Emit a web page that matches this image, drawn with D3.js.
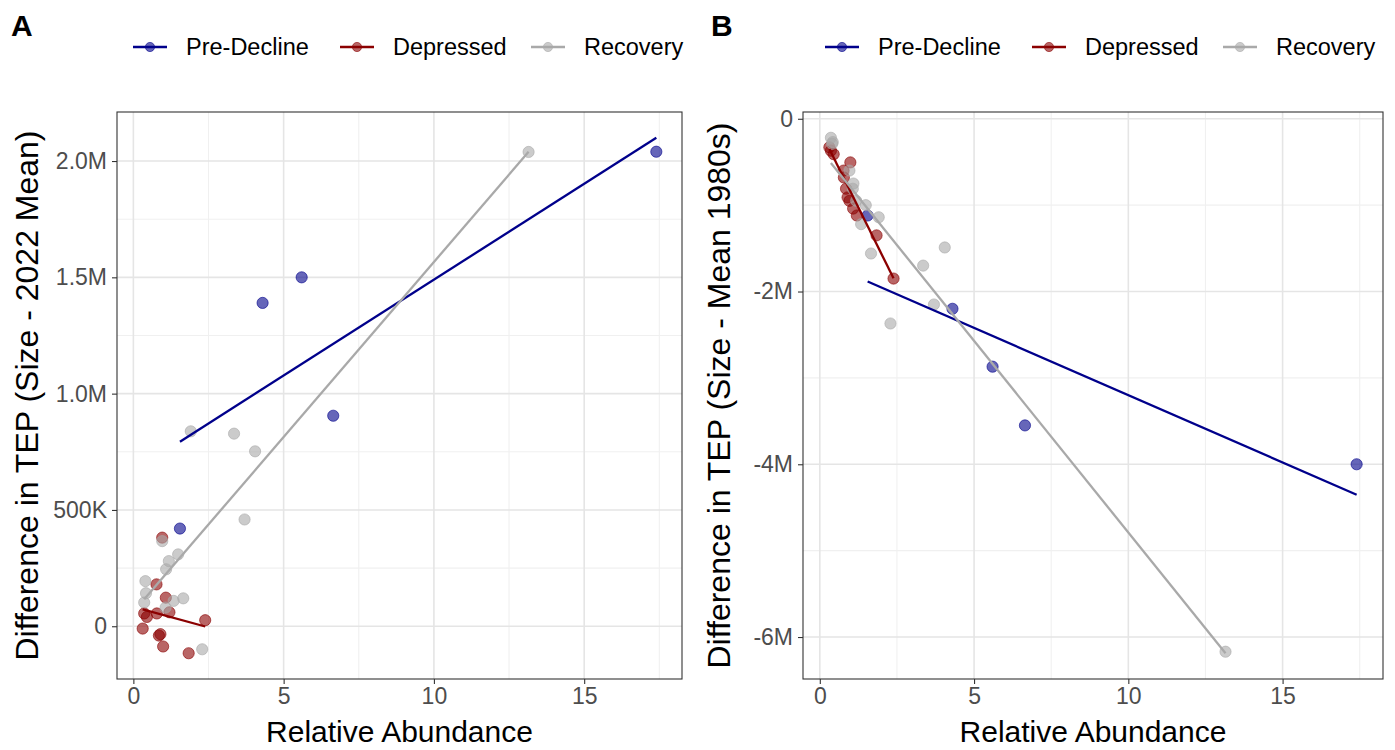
<!DOCTYPE html>
<html>
<head>
<meta charset="utf-8">
<script src="https://cdn.jsdelivr.net/npm/d3@7"></script>
<style>
  body { margin: 0; background: #fff; }
  svg { display: block; }
  text { font-family: "Liberation Sans", Arial, sans-serif; }
</style>
</head>
<body>
<svg id="chart" width="1395" height="750"></svg>
<script>
// Relative abundance (shared by both panels) and TEP differences per period
const preX = [1.55, 4.30, 5.60, 6.65, 17.40];
const preA = [420000, 1390000, 1500000, 905000, 2040000];
const preB = [-1120000, -2200000, -2870000, -3550000, -4000000];

const depX = [0.31, 0.36, 0.45, 0.77, 0.78, 0.85, 0.90, 0.96, 0.99, 1.08, 1.20, 1.84, 2.39];
const depA = [-10000, 55000, 40000, 180000, 55000, -40000, -34000, 381000, -87000, 123000, 60000, -116000, 26000];
const depB = [-330000, -370000, -410000, -600000, -680000, -810000, -910000, -950000, -505000, -1040000, -1120000, -1350000, -1850000];

const recX = [0.36, 0.40, 0.42, 0.96, 1.07, 1.09, 1.18, 1.34, 1.49, 1.66, 1.91, 2.29, 3.35, 3.70, 4.05, 13.15];
const recA = [102000, 194000, 142000, 366000, 80000, 245000, 280000, 109000, 309000, 120000, 838000, -99000, 828000, 459000, 752000, 2039000];
const recB = [-220000, -290000, -270000, -600000, -810000, -750000, -950000, -1220000, -1000000, -1560000, -1140000, -2370000, -1700000, -2150000, -1490000, -6170000];

const periodNames = ["Pre-Decline", "Depressed", "Recovery"];
const periodColors = ["#00008B", "#8B0000", "#A9A9A9"];

const xTicks = [0, 5, 10, 15];
const xTickLabels = ["0", "5", "10", "15"];
const yTicksA = [0, 500000, 1000000, 1500000, 2000000];
const yTickLabelsA = ["0", "500K", "1.0M", "1.5M", "2.0M"];
const yTicksB = [0, -2000000, -4000000, -6000000];
const yTickLabelsB = ["0", "-2M", "-4M", "-6M"];

const svg = d3.select("#chart");

const series = [
  { x: preX, a: preA, b: preB },
  { x: depX, a: depA, b: depB },
  { x: recX, a: recA, b: recB }
].map((s, i) => ({ ...s, name: periodNames[i], color: periodColors[i] }));

// ordinary least squares fit, spanning the group's x range
function fit(xs, ys) {
  const mx = d3.mean(xs), my = d3.mean(ys);
  let sxy = 0, sxx = 0;
  xs.forEach((x, i) => { sxy += (x - mx) * (ys[i] - my); sxx += (x - mx) * (x - mx); });
  const slope = sxy / sxx, icpt = my - slope * mx;
  const [x0, x1] = d3.extent(xs);
  return [[x0, icpt + slope * x0], [x1, icpt + slope * x1]];
}

function expand([lo, hi], f = 0.05) {
  const d = (hi - lo) * f;
  return [lo - d, hi + d];
}

const panels = [
  { tag: "A", key: "a", left: 117, right: 682, top: 112, bottom: 679,
    yTicks: yTicksA, yLabels: yTickLabelsA, ytitle: "Difference in TEP (Size - 2022 Mean)",
    tagX: 11, legendX: 133, ytitleX: 38 },
  { tag: "B", key: "b", left: 803, right: 1383, top: 112, bottom: 679,
    yTicks: yTicksB, yLabels: yTickLabelsB, ytitle: "Difference in TEP (Size - Mean 1980s)",
    tagX: 711, legendX: 825, ytitleX: 730 }
];

const allX = [...preX, ...depX, ...recX];
const xDomain = expand(d3.extent(allX));

function minorOf(ticks, domain) {
  const t = [...ticks].sort((a, b) => a - b);
  const step = t[1] - t[0];
  const out = [];
  for (let i = -1; i < t.length; i++) {
    const v = (i < 0 ? t[0] - step / 2 : t[i] + step / 2);
    if (v > domain[0] && v < domain[1]) out.push(v);
  }
  return out;
}

panels.forEach(p => {
  const fits = series.map(s => fit(s.x, s[p.key]));
  const yVals = [];
  series.forEach((s, i) => { yVals.push(...s[p.key]); fits[i].forEach(d => yVals.push(d[1])); });
  const yDomain = expand(d3.extent(yVals));

  const x = d3.scaleLinear().domain(xDomain).range([p.left, p.right]);
  const y = d3.scaleLinear().domain(yDomain).range([p.bottom, p.top]);

  const g = svg.append("g");

  // grid
  const grid = g.append("g");
  minorOf(xTicks, xDomain).forEach(v => grid.append("line")
    .attr("x1", x(v)).attr("x2", x(v)).attr("y1", p.top).attr("y2", p.bottom)
    .attr("stroke", "#f0f0f0").attr("stroke-width", 1.1));
  minorOf(p.yTicks, yDomain).forEach(v => grid.append("line")
    .attr("y1", y(v)).attr("y2", y(v)).attr("x1", p.left).attr("x2", p.right)
    .attr("stroke", "#f0f0f0").attr("stroke-width", 1.1));
  xTicks.forEach(v => grid.append("line")
    .attr("x1", x(v)).attr("x2", x(v)).attr("y1", p.top).attr("y2", p.bottom)
    .attr("stroke", "#e5e5e5").attr("stroke-width", 1.6));
  p.yTicks.forEach(v => grid.append("line")
    .attr("y1", y(v)).attr("y2", y(v)).attr("x1", p.left).attr("x2", p.right)
    .attr("stroke", "#e5e5e5").attr("stroke-width", 1.6));

  // points
  series.forEach(s => {
    g.append("g").selectAll("circle")
      .data(s.x.map((v, i) => [v, s[p.key][i]]))
      .join("circle")
      .attr("cx", d => x(d[0])).attr("cy", d => y(d[1])).attr("r", 5.6)
      .attr("fill", s.color).attr("fill-opacity", 0.6)
      .attr("stroke", s.color).attr("stroke-opacity", 0.6).attr("stroke-width", 1);
  });

  // fitted lines
  const line = d3.line().x(d => x(d[0])).y(d => y(d[1]));
  series.forEach((s, i) => {
    g.append("path").attr("d", line(fits[i]))
      .attr("fill", "none").attr("stroke", s.color).attr("stroke-width", 2.3);
  });

  // panel border
  g.append("rect").attr("x", p.left).attr("y", p.top)
    .attr("width", p.right - p.left).attr("height", p.bottom - p.top)
    .attr("fill", "none").attr("stroke", "#333").attr("stroke-width", 1.1);

  // axes
  const xAxis = d3.axisBottom(x).tickValues(xTicks).tickFormat((d, i) => xTickLabels[i])
    .tickSize(5).tickPadding(4);
  const gx = g.append("g").attr("transform", `translate(0,${p.bottom})`).call(xAxis);
  const yAxis = d3.axisLeft(y).tickValues(p.yTicks).tickFormat((d, i) => p.yLabels[i])
    .tickSize(5).tickPadding(5);
  const gy = g.append("g").attr("transform", `translate(${p.left},0)`).call(yAxis);
  [gx, gy].forEach(a => {
    a.select(".domain").remove();
    a.selectAll(".tick line").attr("stroke", "#333").attr("stroke-width", 1.1);
    a.selectAll(".tick text").attr("fill", "#4d4d4d").attr("font-size", 23);
  });

  // titles
  g.append("text").attr("x", (p.left + p.right) / 2).attr("y", 742)
    .attr("text-anchor", "middle").attr("font-size", 30).attr("fill", "#000")
    .text("Relative Abundance");
  g.append("text").attr("transform", `translate(${p.ytitleX},${(p.top + p.bottom) / 2}) rotate(-90)`)
    .attr("text-anchor", "middle").attr("font-size", 32).attr("fill", "#000")
    .text(p.ytitle);
  g.append("text").attr("x", p.tagX).attr("y", 36)
    .attr("font-size", 30).attr("font-weight", "bold").attr("fill", "#000")
    .text(p.tag);

  // legend
  const keyOffsets = [0, 207, 398];
  series.forEach((s, i) => {
    const kx = p.legendX + keyOffsets[i];
    const lg = g.append("g");
    lg.append("line").attr("x1", kx).attr("x2", kx + 34).attr("y1", 47).attr("y2", 47)
      .attr("stroke", s.color).attr("stroke-width", 2.3);
    lg.append("circle").attr("cx", kx + 17).attr("cy", 47).attr("r", 4.6)
      .attr("fill", s.color).attr("fill-opacity", 0.6)
      .attr("stroke", s.color).attr("stroke-opacity", 0.6);
    lg.append("text").attr("x", kx + 53).attr("y", 55)
      .attr("font-size", 23.5).attr("fill", "#000").text(s.name);
  });
});
</script>
</body>
</html>
